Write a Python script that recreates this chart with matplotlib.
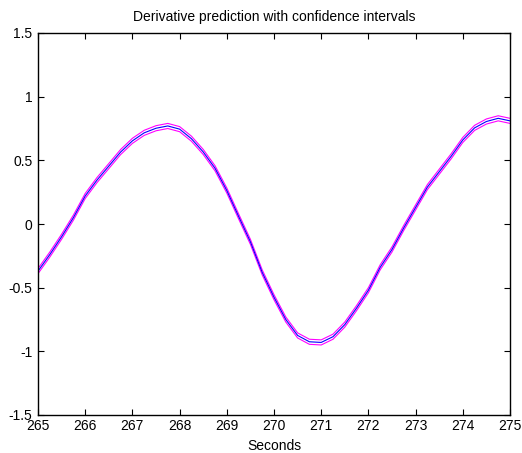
import matplotlib
matplotlib.use("Agg")
import matplotlib.pyplot as plt
import numpy as np

seconds = [265.00, 265.25, 265.50, 265.75, 266.00, 266.25, 266.50, 266.75,
           267.00, 267.25, 267.50, 267.75, 268.00, 268.25, 268.50, 268.75,
           269.00, 269.25, 269.50, 269.75, 270.00, 270.25, 270.50, 270.75,
           271.00, 271.25, 271.50, 271.75, 272.00, 272.25, 272.50, 272.75,
           273.00, 273.25, 273.50, 273.75, 274.00, 274.25, 274.50, 274.75,
           275.00]
derivative = [-0.37, -0.24, -0.10, 0.05, 0.22, 0.345, 0.455, 0.565,
              0.653, 0.716, 0.752, 0.77, 0.745, 0.67, 0.566, 0.438,
              0.263, 0.06, -0.14, -0.38, -0.575, -0.75, -0.875, -0.925,
              -0.93, -0.885, -0.79, -0.66, -0.52, -0.34, -0.20, -0.03,
              0.13, 0.29, 0.41, 0.53, 0.66, 0.755, 0.805, 0.83,
              0.81]
conf_halfwidth = [0.02] * len(seconds)

x_ticks = [265, 266, 267, 268, 269, 270, 271, 272, 273, 274, 275]
y_ticks = [-1.5, -1, -0.5, 0, 0.5, 1, 1.5]
y_ticklabels = ["-1.5", "-1", "-0.5", "0", "0.5", "1", "1.5"]

plt.rcParams['font.family'] = ['Liberation Sans', 'DejaVu Sans']

fig = plt.figure(figsize=(5.22, 4.53), dpi=100)
ax = fig.add_axes([38/522, 1 - 415/453, (510 - 38)/522, (415 - 33)/453])

d = np.array(derivative)
c = np.array(conf_halfwidth)
ax.plot(seconds, d + c, color='#ff00ff', lw=0.8)
ax.plot(seconds, d - c, color='#ff00ff', lw=0.8)
ax.plot(seconds, d, color='#0000ff', lw=0.8)

ax.set_xlim(265, 275)
ax.set_ylim(-1.5, 1.5)
ax.set_xticks(x_ticks)
ax.set_xticklabels([str(t) for t in x_ticks])
ax.set_yticks(y_ticks)
ax.set_yticklabels(y_ticklabels)
ax.tick_params(direction='in', length=4, width=0.8, top=True, right=True,
               labelsize=10)
ax.tick_params(axis='y', pad=4)
ax.tick_params(axis='x', pad=3)
for s in ax.spines.values():
    s.set_linewidth(1.0)
ax.set_title("Derivative prediction with confidence intervals", fontsize=10, pad=9)
ax.set_xlabel("Seconds", fontsize=10, labelpad=4)

fig.savefig("out.png", dpi=100)
